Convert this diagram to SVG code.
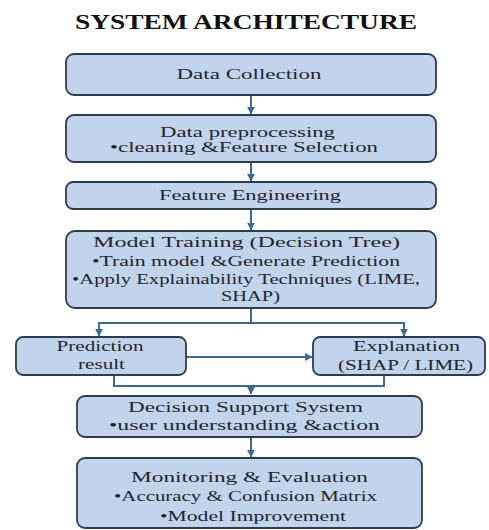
<svg xmlns="http://www.w3.org/2000/svg" width="489" height="530" viewBox="0 0 489 530">
  <style>
    .box { fill: #c1d4eb; stroke: #2e3d4c; stroke-width: 1.8; }
    .t { font-family: "Liberation Serif", "Times New Roman", serif; font-size: 15px; fill: #1f2630; text-anchor: middle; }
    .title { font-family: "Liberation Serif", "Times New Roman", serif; font-size: 21px; font-weight: bold; fill: #111; text-anchor: middle; }
    .link { fill: none; stroke: #3d6b90; stroke-width: 2; }
  </style>
  <defs>
    <marker id="arrow" viewBox="0 0 10 10" refX="9" refY="5" markerWidth="4" markerHeight="4" orient="auto" markerUnits="strokeWidth">
      <path d="M0,0 L10,5 L0,10 z" fill="#3d6b90"/>
    </marker>
  </defs>

  <rect width="489" height="530" fill="#ffffff"/>

  <text class="title" x="246" y="29" textLength="342" lengthAdjust="spacingAndGlyphs">SYSTEM ARCHITECTURE</text>

  <!-- connectors -->
  <g id="connectors">
    <line class="link" x1="251" y1="95" x2="251" y2="114" marker-end="url(#arrow)"/>
    <line class="link" x1="251" y1="162" x2="251" y2="181" marker-end="url(#arrow)"/>
    <line class="link" x1="251" y1="209" x2="251" y2="230" marker-end="url(#arrow)"/>
    <polyline class="link" points="251,308 251,323"/>
    <polyline class="link" points="99,323 404,323"/>
    <line class="link" x1="99" y1="322" x2="99" y2="336" marker-end="url(#arrow)"/>
    <line class="link" x1="404" y1="322" x2="404" y2="336" marker-end="url(#arrow)"/>
    <line class="link" x1="186" y1="357" x2="312" y2="357" marker-end="url(#arrow)"/>
    <polyline class="link" points="114,375 114,386 384,386 384,375"/>
    <line class="link" x1="251" y1="386" x2="251" y2="394" marker-end="url(#arrow)"/>
    <line class="link" x1="251" y1="437" x2="251" y2="457" marker-end="url(#arrow)"/>
  </g>

  <g id="data-collection">
    <rect class="box" x="66" y="54" width="370" height="41" rx="8"/>
    <text class="t" x="249" y="78.5" textLength="145" lengthAdjust="spacingAndGlyphs">Data Collection</text>
  </g>

  <g id="data-preprocessing">
    <rect class="box" x="66" y="115" width="370" height="47" rx="8"/>
    <text class="t" x="247.5" y="136.5" textLength="175" lengthAdjust="spacingAndGlyphs">Data preprocessing</text>
    <text class="t" x="244" y="152" textLength="268" lengthAdjust="spacingAndGlyphs">•cleaning &amp;Feature Selection</text>
  </g>

  <g id="feature-engineering">
    <rect class="box" x="66" y="182" width="370" height="27" rx="7"/>
    <text class="t" x="250" y="199.5" textLength="182" lengthAdjust="spacingAndGlyphs">Feature Engineering</text>
  </g>

  <g id="model-training">
    <rect class="box" x="66" y="231" width="370" height="77" rx="9"/>
    <text class="t" x="246.5" y="247" textLength="307" lengthAdjust="spacingAndGlyphs">Model Training (Decision Tree)</text>
    <text class="t" x="246" y="265.5" textLength="308" lengthAdjust="spacingAndGlyphs">•Train model &amp;Generate Prediction</text>
    <text class="t" x="246" y="284" textLength="348" lengthAdjust="spacingAndGlyphs">•Apply Explainability Techniques (LIME,</text>
    <text class="t" x="250.5" y="301" textLength="59" lengthAdjust="spacingAndGlyphs">SHAP)</text>
  </g>

  <g id="prediction-result">
    <rect class="box" x="16" y="337" width="170" height="38" rx="7"/>
    <text class="t" x="100" y="351" textLength="87" lengthAdjust="spacingAndGlyphs">Prediction</text>
    <text class="t" x="101.5" y="369" textLength="47" lengthAdjust="spacingAndGlyphs">result</text>
  </g>

  <g id="explanation">
    <rect class="box" x="313" y="337" width="172" height="38" rx="7"/>
    <text class="t" x="406.5" y="351" textLength="107" lengthAdjust="spacingAndGlyphs">Explanation</text>
    <text class="t" x="405.5" y="369.5" textLength="135" lengthAdjust="spacingAndGlyphs">(SHAP / LIME)</text>
  </g>

  <g id="decision-support">
    <rect class="box" x="77" y="396" width="345" height="41" rx="8"/>
    <text class="t" x="245.5" y="411.5" textLength="235" lengthAdjust="spacingAndGlyphs">Decision Support System</text>
    <text class="t" x="244.5" y="430" textLength="271" lengthAdjust="spacingAndGlyphs">•user understanding &amp;action</text>
  </g>

  <g id="monitoring">
    <rect class="box" x="77" y="458" width="345" height="70" rx="8"/>
    <text class="t" x="249.5" y="481.5" textLength="237" lengthAdjust="spacingAndGlyphs">Monitoring &amp; Evaluation</text>
    <text class="t" x="245.5" y="501" textLength="263" lengthAdjust="spacingAndGlyphs">•Accuracy &amp; Confusion Matrix</text>
    <text class="t" x="253" y="521" textLength="186" lengthAdjust="spacingAndGlyphs">•Model Improvement</text>
  </g>
</svg>
